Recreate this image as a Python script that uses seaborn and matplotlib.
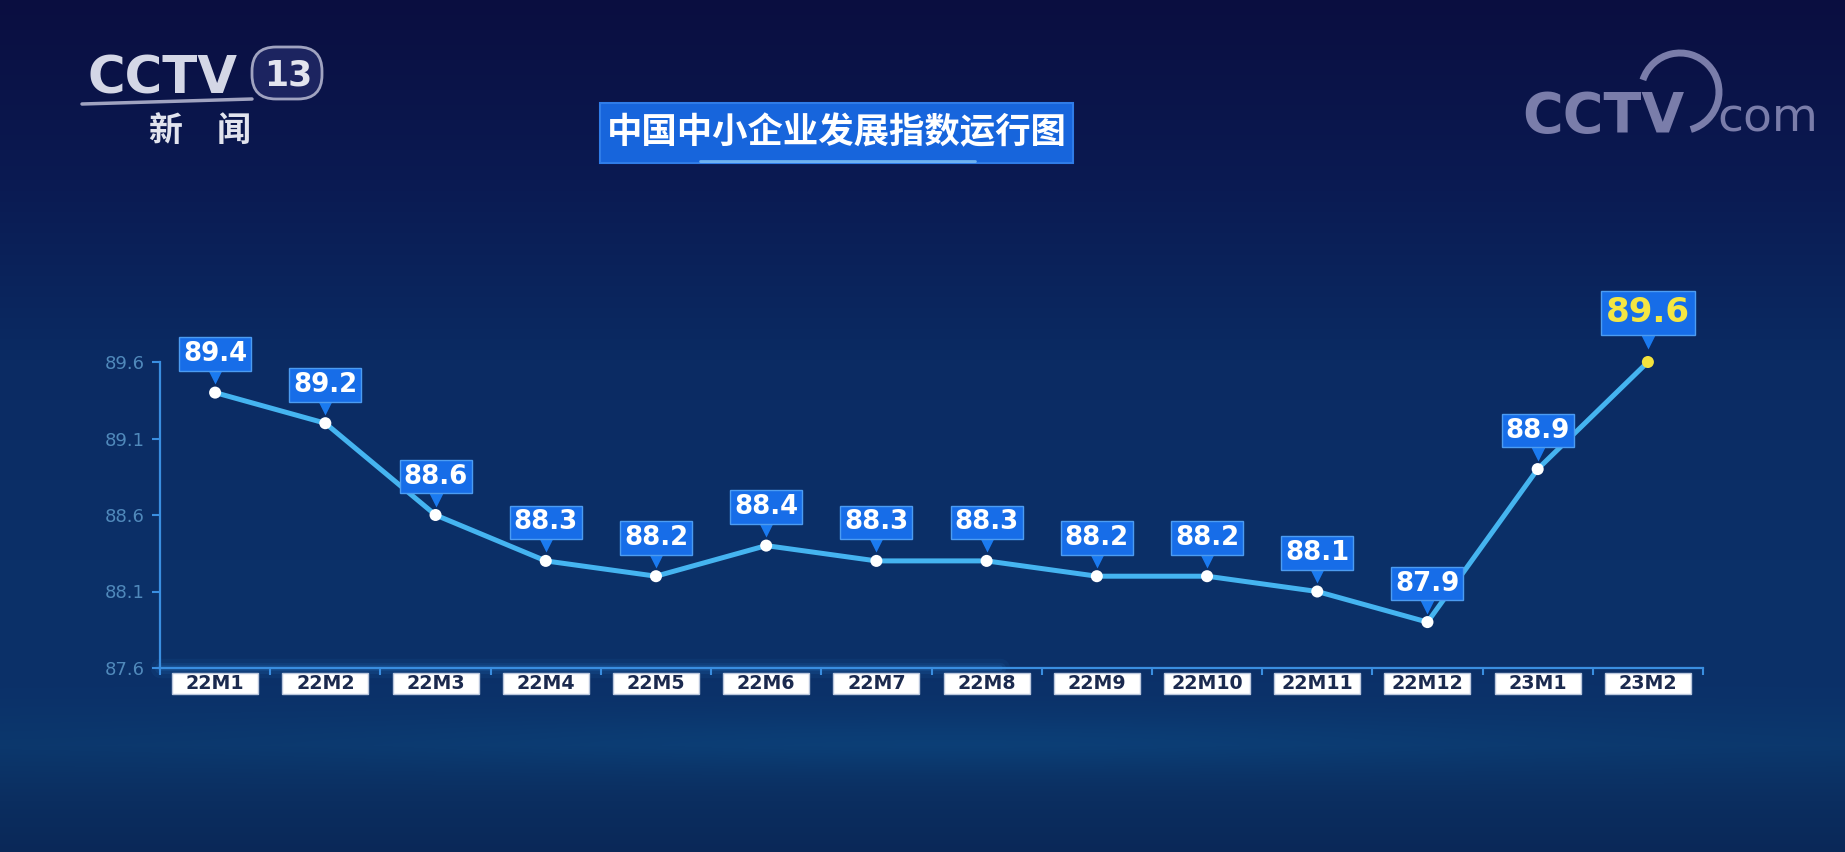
import numpy as np
import pandas as pd
import matplotlib
matplotlib.use("Agg")
import matplotlib.pyplot as plt
import matplotlib.colors as mcolors
import seaborn as sns
from matplotlib.patches import Rectangle, FancyBboxPatch, Arc
from matplotlib.transforms import blended_transform_factory, offset_copy

# ---------------- data ----------------
months = ["22M1", "22M2", "22M3", "22M4", "22M5", "22M6", "22M7",
          "22M8", "22M9", "22M10", "22M11", "22M12", "23M1", "23M2"]
values = [89.4, 89.2, 88.6, 88.3, 88.2, 88.4, 88.3,
          88.3, 88.2, 88.2, 88.1, 87.9, 88.9, 89.6]
y_ticks = [87.6, 88.1, 88.6, 89.1, 89.6]
title = "中国中小企业发展指数运行图"

sns.set_style("ticks")
plt.rcParams["font.family"] = ["DejaVu Sans", "Noto Sans CJK SC"]
CJK = ["Noto Sans CJK SC", "DejaVu Sans"]

W, H = 1845, 852
fig = plt.figure(figsize=(W / 100, H / 100), dpi=100)

# ---------------- background ----------------
stops_y = [0, 180, 360, 560, 690, 745, 800, 852]
stops_c = ["#0a0e40", "#0a1a52", "#0b2b63", "#0b3068", "#0b3169",
           "#0c376c", "#0b2e60", "#0a2858"]
rgb = np.array([mcolors.to_rgb(c) for c in stops_c])
yy = np.arange(H)
col = np.stack([np.interp(yy, stops_y, rgb[:, k]) for k in range(3)], axis=1)
img = np.repeat(col[:, None, :], W, axis=1)
X, Y = np.meshgrid(np.arange(W), np.arange(H))
glow = np.exp(-((X - 950) / 600.0) ** 2 - ((Y - 742) / 28.0) ** 2)
img = img + glow[..., None] * np.array([0.0, 0.03, 0.04])
img = np.clip(img, 0, 1)

bg = fig.add_axes([0, 0, 1, 1], zorder=0)
bg.imshow(img, extent=[0, W, H, 0], aspect="auto", interpolation="bilinear")
bg.set_xlim(0, W)
bg.set_ylim(H, 0)
bg.axis("off")

# axis glow
for lw_, a_ in [(14, 0.05), (8, 0.08), (4, 0.12)]:
    bg.plot([160, 1000], [668, 668], color="#3aa8ff", lw=lw_, alpha=a_,
            solid_capstyle="round")

# title
bg.add_patch(Rectangle((600, 103), 473, 60, fc="#1765dc", ec="#2f7ce8", lw=1.5))
bg.plot([700, 975], [161, 161], color="#a8e4ff", lw=2, alpha=0.6)
bg.text(836.5, 133, title, ha="center", va="center", fontsize=25.5,
        fontweight="heavy", color="white", family=CJK)

# CCTV 13 logo
bg.add_patch(FancyBboxPatch((252, 47), 70, 52,
                            boxstyle="round,pad=0,rounding_size=24",
                            fc="#1c2460", ec="#a0a3c0", lw=2))
bg.plot([82, 252], [104, 99], color="#a0a3c0", lw=2.5, solid_capstyle="round")
bg.text(163, 93, "CCTV", ha="center", va="baseline", fontsize=37,
        fontweight="bold", color="#d4d7e6")
bg.text(288, 85, "13", ha="center", va="baseline", fontsize=25,
        fontweight="bold", color="#e2e4ee")
bg.text(200, 130, "新\u3000闻", ha="center", va="center", fontsize=24.5,
        fontweight="bold", color="#e2e4ee", family=CJK)

# CCTV.com logo
bg.text(1603, 132, "CCTV", ha="center", va="baseline", fontsize=40,
        fontweight="bold", color="#7a7daa")
bg.text(1768, 132, "com", ha="center", va="baseline", fontsize=34,
        color="#7a7daa")
bg.add_patch(Arc((1680, 92), 78, 78, theta1=-162, theta2=74,
                 color="#7a7daa", lw=5))

# ---------------- main chart ----------------
ax = fig.add_axes([160 / W, (H - 668) / H, 1543 / W, 306 / H], zorder=2)
ax.set_facecolor("none")
ax.set_axisbelow(False)

df = pd.DataFrame({"month": months, "value": values})
sns.lineplot(data=df, x="month", y="value", ax=ax, color="#45b4f0",
             linewidth=3.6, sort=False, zorder=3)
sns.scatterplot(data=df.iloc[:-1], x="month", y="value", ax=ax,
                color="white", s=75, edgecolor="none", zorder=5, legend=False)
sns.scatterplot(data=df.iloc[-1:], x="month", y="value", ax=ax,
                color="#f3e23c", s=75, edgecolor="none", zorder=5, legend=False)
for art in ax.lines + ax.collections:
    art.set_clip_on(False)

ax.set_xlim(-0.5, len(months) - 0.5)
ax.set_ylim(y_ticks[0], y_ticks[-1])
ax.set_yticks(y_ticks)
ax.set_yticklabels([f"{t:.1f}" for t in y_ticks])
ax.set_xticks(range(len(months)))
ax.set_xticklabels(months)
ax.set_xticks(np.arange(-0.5, len(months)), minor=True)
ax.set_xlabel("")
ax.set_ylabel("")

for s in ["top", "right"]:
    ax.spines[s].set_visible(False)
for s in ["left", "bottom"]:
    ax.spines[s].set_color("#3a8ee0")
    ax.spines[s].set_linewidth(1.6)

ax.tick_params(axis="y", which="major", direction="out", length=6, width=1.5,
               color="#3a8ee0", labelcolor="#5089bb", labelsize=13, pad=5)
ax.tick_params(axis="x", which="major", length=0, pad=11.2, labelsize=13.7,
               labelcolor="#1b2a4f")
ax.tick_params(axis="x", which="minor", length=5, width=1.5,
               color="#3a8ee0", direction="out")
for lbl in ax.get_xticklabels():
    lbl.set_fontweight("bold")
    lbl.set_va("center")

# white boxes behind x tick labels
trans = blended_transform_factory(ax.transData, ax.transAxes)
for i in range(len(months)):
    ax.add_patch(Rectangle((i - 0.39, -26 / 306), 0.78, 21 / 306,
                           transform=trans, fc="white", ec="#b9c6dc", lw=1,
                           clip_on=False, zorder=0.2))

# value callouts
n = len(values)
for i, v in enumerate(values):
    last = i == n - 1
    ax.annotate(f"{v:.1f}", xy=(i, v), xytext=(0, 49 if last else 38.5),
                textcoords="offset pixels", ha="center", va="center",
                fontsize=24.5 if last else 18.7, fontweight="bold",
                color="#f4e642" if last else "white",
                bbox=dict(boxstyle="square,pad=0.15", fc="#176de8",
                          ec="#4c9cf2", lw=1),
                annotation_clip=False, zorder=6)
    tr = offset_copy(ax.transData, fig=fig, x=0, y=(20.5 if last else 15.5),
                     units="dots")
    ax.plot([i], [v], marker="v", ms=9.5, color="#1a7af0", mec="none",
            transform=tr, clip_on=False, zorder=4)

fig.savefig("out.png", dpi=100)
